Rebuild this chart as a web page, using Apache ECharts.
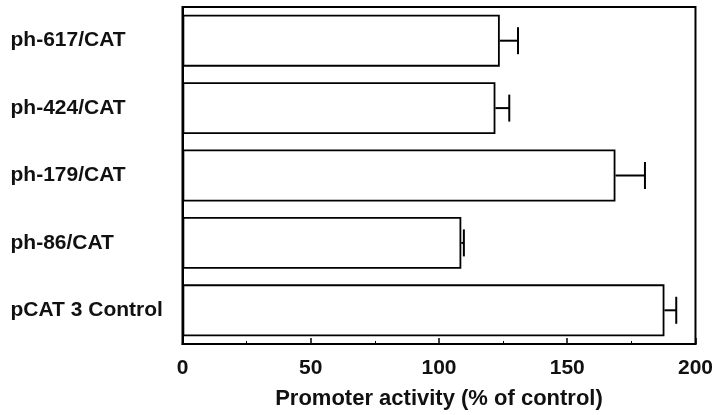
<!DOCTYPE html>
<html>
<head>
<meta charset="utf-8">
<script src="https://cdn.jsdelivr.net/npm/echarts@6/dist/echarts.min.js"></script>
<style>html,body{margin:0;padding:0;background:#fff}#c{width:716px;height:415px}</style>
</head>
<body>
<div id="c"></div>
<script>
const categories = ['ph-617/CAT', 'ph-424/CAT', 'ph-179/CAT', 'ph-86/CAT', 'pCAT 3 Control'];
const values = [123.7, 122.0, 168.8, 108.7, 187.9];
const errors = [7.1, 5.4, 11.5, 1.0, 4.6];
const xTicks = [0, 50, 100, 150, 200];

const chart = echarts.init(document.getElementById('c'), null, {renderer: 'canvas'});
const font = 'Liberation Sans, Arial, Helvetica, sans-serif';
chart.setOption({
  animation: false,
  backgroundColor: '#fff',
  grid: {left: 182.5, right: 20, top: 7, bottom: 71, show: true, borderColor: '#000', borderWidth: 2, backgroundColor: 'transparent'},
  xAxis: {
    type: 'value', min: xTicks[0], max: xTicks[xTicks.length - 1], interval: 50,
    name: 'Promoter activity (% of control)', nameLocation: 'middle', nameGap: 44,
    nameTextStyle: {fontFamily: font, fontWeight: 'bold', fontSize: 22, color: '#111'},
    axisLine: {show: true, lineStyle: {color: '#000', width: 2}},
    axisTick: {show: true, inside: true, length: 6, lineStyle: {color: '#000', width: 1.5}},
    minorTick: {show: true, splitNumber: 2, length: 3, lineStyle: {color: '#000', width: 1}},
    splitLine: {show: false},
    axisLabel: {fontFamily: font, fontWeight: 'bold', fontSize: 21, color: '#111', margin: 14,
      formatter: v => xTicks.includes(v) ? String(v) : ''}
  },
  yAxis: {
    type: 'category', data: categories, inverse: true,
    axisLine: {show: true, lineStyle: {color: '#000', width: 2}},
    axisTick: {show: false},
    splitLine: {show: false},
    axisLabel: {fontFamily: font, fontWeight: 'bold', fontSize: 21, color: '#111', align: 'left', margin: 172}
  },
  series: [
    {
      type: 'bar', data: values, barWidth: '77%',
      itemStyle: {color: '#fff', borderColor: '#000', borderWidth: 1.8}
    },
    {
      type: 'custom',
      data: values.map((v, i) => [i, v, v + errors[i]]),
      renderItem: function (params, api) {
        const idx = api.value(0);
        const start = api.coord([api.value(1), idx]);
        const end = api.coord([api.value(2), idx]);
        const half = 13.5;
        return {
          type: 'group',
          children: [
            {type: 'line', shape: {x1: start[0], y1: start[1], x2: end[0], y2: end[1]}, style: {stroke: '#000', lineWidth: 2}},
            {type: 'line', shape: {x1: end[0], y1: end[1] - half, x2: end[0], y2: end[1] + half}, style: {stroke: '#000', lineWidth: 2}}
          ]
        };
      },
      encode: {x: [1, 2], y: 0},
      z: 3
    }
  ]
});
</script>
</body>
</html>
